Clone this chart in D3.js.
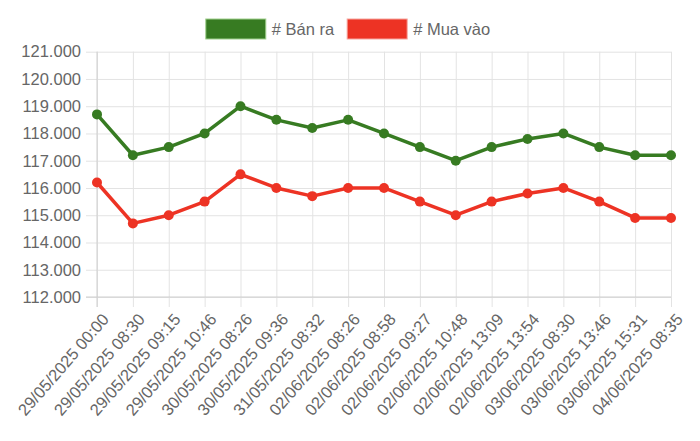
<!DOCTYPE html>
<html>
<head>
<meta charset="utf-8">
<script src="https://cdn.jsdelivr.net/npm/d3@7"></script>
<style>
  body { margin: 0; background: #fff; }
  svg { font-family: "Liberation Sans", Arial, sans-serif; }
</style>
</head>
<body>
<svg id="chart" width="700" height="441"></svg>
<script>
// chart data
var labels = [
  '29/05/2025 00:00', '29/05/2025 08:30', '29/05/2025 09:15', '29/05/2025 10:46',
  '30/05/2025 08:26', '30/05/2025 09:36', '31/05/2025 08:32', '02/06/2025 08:26',
  '02/06/2025 08:58', '02/06/2025 09:27', '02/06/2025 10:48', '02/06/2025 13:09',
  '02/06/2025 13:54', '03/06/2025 08:30', '03/06/2025 13:46', '03/06/2025 15:31',
  '04/06/2025 08:35'
];
var banRa = [118700, 117200, 117500, 118000, 119000, 118500, 118200, 118500, 118000,
             117500, 117000, 117500, 117800, 118000, 117500, 117200, 117200];
var muaVao = [116200, 114700, 115000, 115500, 116500, 116000, 115700, 116000, 116000,
              115500, 115000, 115500, 115800, 116000, 115500, 114900, 114900];
var yTicks = [112000, 113000, 114000, 115000, 116000, 117000, 118000, 119000, 120000, 121000];

var series = [
  { name: '# Bán ra', values: banRa, color: '#377b22', border: '#9fd08c' },
  { name: '# Mua vào', values: muaVao, color: '#ed3324', border: '#f6a59e' }
];

// plot area (note: "top" is taken by window.top, so use plot* names)
var plotL = 97, plotR = 671, plotT = 51.7, plotB = 297;
var textColor = '#666';
var fontSize = 16.5;

var svg = d3.select('#chart');

var xScale = d3.scalePoint()
  .domain(labels)
  .range([plotL, plotR]);

var yScale = d3.scaleLinear()
  .domain([112000, 121000])
  .range([plotB, plotT]);

var vn = d3.formatLocale({ decimal: ',', thousands: '.', grouping: [3], currency: ['', ''] });

// y axis + horizontal grid (ticks extend 11px left of plot)
var yAxis = d3.axisLeft(yScale)
  .tickValues(yTicks)
  .tickSize(plotR - plotL + 11)
  .tickPadding(5)
  .tickFormat(vn.format(','));

var gy = svg.append('g')
  .attr('transform', 'translate(' + plotR + ',0)')
  .call(yAxis);
gy.select('.domain').remove();
gy.selectAll('line').attr('stroke', '#e3e3e3');
gy.selectAll('text')
  .attr('fill', textColor)
  .style('font-size', fontSize + 'px')
  .style('font-family', '"Liberation Sans", Arial, sans-serif');

// x axis + vertical grid (ticks extend 10px below plot)
var xAxis = d3.axisBottom(xScale)
  .tickSize(plotB - plotT + 10)
  .tickPadding(0);

var gx = svg.append('g')
  .attr('transform', 'translate(0,' + plotT + ')')
  .call(xAxis);
gx.select('.domain').remove();
gx.selectAll('line').attr('stroke', '#e3e3e3');
gx.selectAll('text')
  .attr('fill', textColor)
  .style('font-size', fontSize + 'px')
  .style('font-family', '"Liberation Sans", Arial, sans-serif')
  .style('text-anchor', 'end')
  .attr('y', 0)
  .attr('dy', '0.35em')
  .attr('transform', 'translate(8,' + (plotB - plotT + 19) + ') rotate(-49)');

// axis border lines
svg.append('line')
  .attr('x1', plotL).attr('x2', plotL)
  .attr('y1', plotT).attr('y2', plotB + 10)
  .attr('stroke', '#cfcfcf');
svg.append('line')
  .attr('x1', plotL - 11).attr('x2', plotR)
  .attr('y1', plotB).attr('y2', plotB)
  .attr('stroke', '#cfcfcf');

// lines + points
var line = d3.line()
  .x((d, i) => xScale(labels[i]))
  .y(d => yScale(d));

series.forEach(function(s) {
  svg.append('path')
    .datum(s.values)
    .attr('d', line)
    .attr('fill', 'none')
    .attr('stroke', s.color)
    .attr('stroke-width', 3.5)
    .attr('stroke-linejoin', 'round');

  svg.append('g')
    .selectAll('circle')
    .data(s.values)
    .enter()
    .append('circle')
      .attr('cx', (d, i) => xScale(labels[i]))
      .attr('cy', d => yScale(d))
      .attr('r', 5)
      .attr('fill', s.color);
});

// legend, centered on the canvas
var boxW = 60, boxH = 20, gap = 6, itemGap = 13;
var legend = svg.append('g');
var items = legend.selectAll('g')
  .data(series)
  .enter()
  .append('g');

items.append('rect')
  .attr('width', boxW)
  .attr('height', boxH)
  .attr('fill', d => d.color)
  .attr('stroke', d => d.border)
  .attr('stroke-width', 1);

items.append('text')
  .attr('x', boxW + gap)
  .attr('y', boxH / 2)
  .attr('dy', '0.35em')
  .attr('fill', textColor)
  .style('font-size', fontSize + 'px')
  .text(d => d.name);

var xpos = 0;
items.each(function() {
  var w = boxW + gap + d3.select(this).select('text').node().getComputedTextLength();
  d3.select(this).attr('transform', 'translate(' + xpos + ',0)');
  xpos += w + itemGap;
});
var total = xpos - itemGap;
legend.attr('transform', 'translate(' + (348 - total / 2) + ',19)');
</script>
</body>
</html>
